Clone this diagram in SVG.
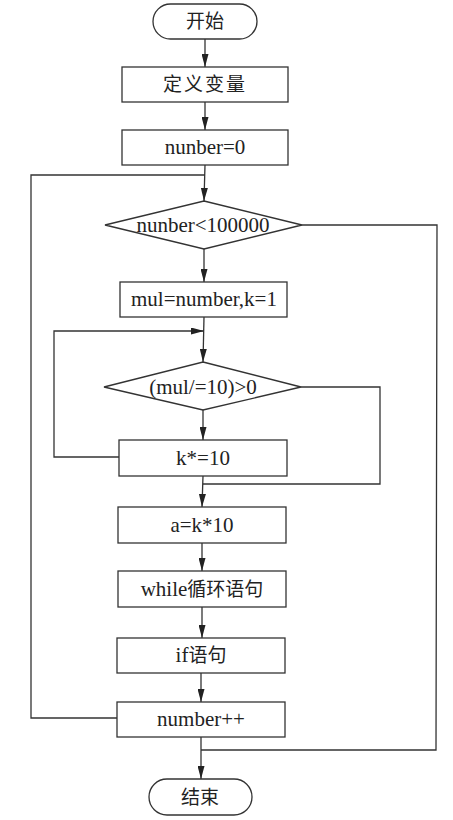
<svg xmlns="http://www.w3.org/2000/svg" width="453" height="820" viewBox="0 0 453 820">
<style>
.shape{fill:#fff;stroke:#333;stroke-width:1.3}
.line{fill:none;stroke:#333;stroke-width:1.3}
text{font-family:"Liberation Serif","Noto Sans CJK SC",serif;font-size:21px;fill:#222;text-anchor:middle}
.cjk{font-family:"Noto Sans CJK SC","Liberation Serif",sans-serif;font-size:19px}
</style>
<defs>
<marker id="arr" markerUnits="userSpaceOnUse" markerWidth="13" markerHeight="7" refX="13" refY="3.5" orient="auto">
<path d="M0,0 L13,3.5 L0,7 z" fill="#222"/>
</marker>
</defs>
<rect width="453" height="820" fill="#fff"/>
<g id="connectors">
<line class="line" x1="205" y1="39" x2="205" y2="67" marker-end="url(#arr)"/>
<line class="line" x1="205" y1="102" x2="205" y2="130" marker-end="url(#arr)"/>
<line class="line" x1="205" y1="165" x2="204" y2="201" marker-end="url(#arr)"/>
<polyline class="line" points="117,718 31,718 31,175 205,175"/>
<polyline class="line" points="302,225 437,225 436,750 201,750"/>
<line class="line" x1="204" y1="249" x2="204" y2="282" marker-end="url(#arr)"/>
<line class="line" x1="204" y1="317" x2="203" y2="362" marker-end="url(#arr)"/>
<polyline class="line" points="119,457 54,457 54,331 204,331" marker-end="url(#arr)"/>
<polyline class="line" points="301,387 380,387 380,484 203,484"/>
<line class="line" x1="203" y1="410" x2="203" y2="440" marker-end="url(#arr)"/>
<line class="line" x1="203" y1="476" x2="202" y2="507" marker-end="url(#arr)"/>
<line class="line" x1="202" y1="543" x2="202" y2="571" marker-end="url(#arr)"/>
<line class="line" x1="202" y1="607" x2="202" y2="638" marker-end="url(#arr)"/>
<line class="line" x1="201" y1="673" x2="201" y2="702" marker-end="url(#arr)"/>
<line class="line" x1="201" y1="737" x2="201" y2="779" marker-end="url(#arr)"/>
</g>
<g id="start">
<rect class="shape" x="153" y="4" width="104" height="35" rx="17.5"/>
<text class="cjk" x="205" y="28">开始</text>
</g>
<g id="define">
<rect class="shape" x="122" y="67" width="166" height="35"/>
<text class="cjk" x="205" y="91" letter-spacing="2">定义变量</text>
</g>
<g id="init">
<rect class="shape" x="122" y="130" width="166" height="35"/>
<text x="205" y="154">nunber=0</text>
</g>
<g id="cond1">
<polygon class="shape" points="204,201 302,225 204,249 105,225"/>
<text x="203" y="232">nunber&lt;100000</text>
</g>
<g id="mul">
<rect class="shape" x="120" y="282" width="167" height="35"/>
<text x="204" y="306">mul=number,k=1</text>
</g>
<g id="cond2">
<polygon class="shape" points="203,362 301,387 203,410 104,387"/>
<text x="203" y="394">(mul/=10)&gt;0</text>
</g>
<g id="kmul">
<rect class="shape" x="119" y="440" width="168" height="36"/>
<text x="203" y="465">k*=10</text>
</g>
<g id="aassign">
<rect class="shape" x="118" y="507" width="168" height="36"/>
<text x="202" y="532">a=k*10</text>
</g>
<g id="while">
<rect class="shape" x="118" y="571" width="168" height="36"/>
<text x="202" y="596">while<tspan class="cjk">循环语句</tspan></text>
</g>
<g id="if">
<rect class="shape" x="117" y="638" width="168" height="35"/>
<text x="201" y="662">if<tspan class="cjk">语句</tspan></text>
</g>
<g id="inc">
<rect class="shape" x="117" y="702" width="168" height="35"/>
<text x="201" y="726">number++</text>
</g>
<g id="end">
<rect class="shape" x="149" y="779" width="103" height="36" rx="18"/>
<text class="cjk" x="200" y="804">结束</text>
</g>
</svg>
